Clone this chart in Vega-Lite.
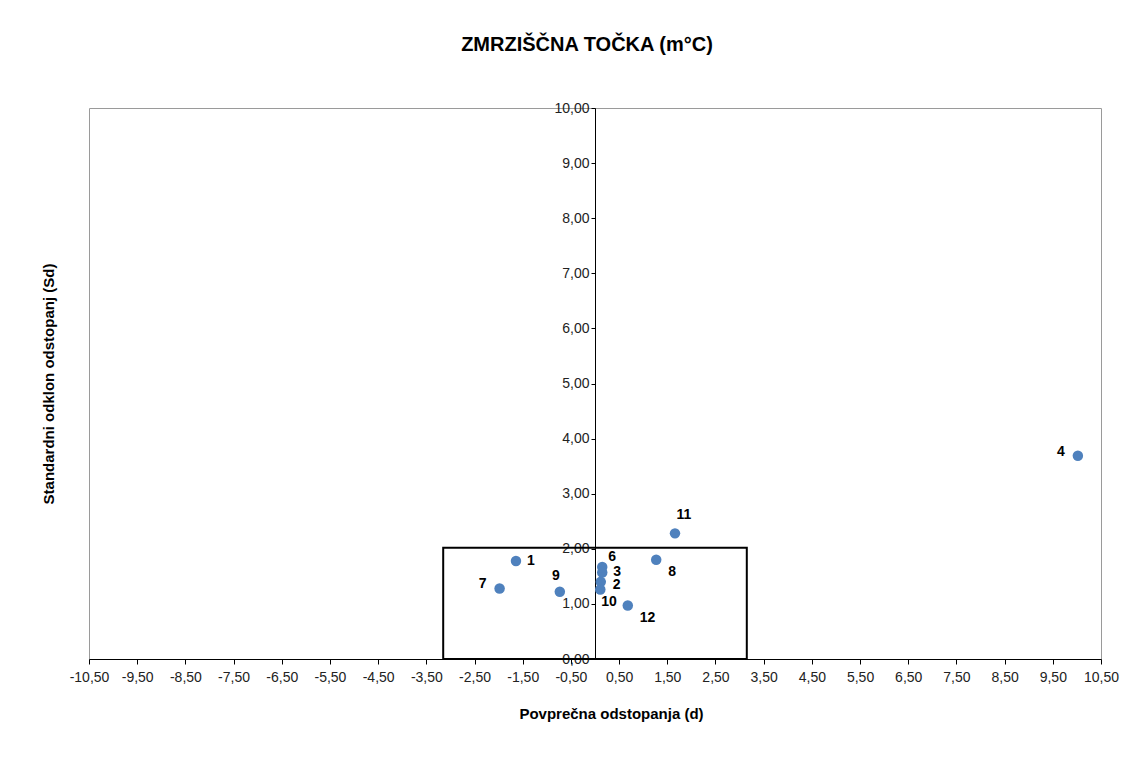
{
  "$schema": "https://vega.github.io/schema/vega-lite/v6.json",
  "width": 1012,
  "height": 551,
  "autosize": {"type": "none"},
  "padding": {"left": 89, "top": 108, "right": 38, "bottom": 99},
  "background": "white",
  "config": {
    "font": "Liberation Sans",
    "locale": {"number": {"decimal": ",", "thousands": ".", "grouping": [3], "currency": ["", " €"], "minus": "-"}},
    "view": {"stroke": "#9a9a9a", "strokeWidth": 1}
  },
  "title": {
    "text": "ZMRZIŠČNA  TOČKA (m°C)",
    "font": "Liberation Sans",
    "fontSize": 20,
    "fontWeight": "bold",
    "color": "black",
    "offset": 46,
    "dx": -8
  },
  "datasets": {
    "pts": [
      {"lab": "1", "d": -1.64, "sd": 1.78},
      {"lab": "2", "d": 0.12, "sd": 1.40},
      {"lab": "3", "d": 0.15, "sd": 1.57},
      {"lab": "4", "d": 10.02, "sd": 3.69},
      {"lab": "6", "d": 0.15, "sd": 1.67},
      {"lab": "7", "d": -1.98, "sd": 1.28},
      {"lab": "8", "d": 1.27, "sd": 1.80},
      {"lab": "9", "d": -0.73, "sd": 1.22},
      {"lab": "10", "d": 0.11, "sd": 1.26},
      {"lab": "11", "d": 1.66, "sd": 2.28},
      {"lab": "12", "d": 0.68, "sd": 0.97}
    ],
    "box": [{"x1": -3.15, "x2": 3.15, "y1": 0, "y2": 2.02}]
  },
  "layer": [
    {
      "data": {"name": "box"},
      "mark": {"type": "rect", "fill": "transparent", "stroke": "black", "strokeWidth": 2},
      "encoding": {
        "x": {"field": "x1", "type": "quantitative",
          "scale": {"domain": [-10.5, 10.5], "nice": false, "zero": false},
          "axis": {
            "title": "Povprečna odstopanja (d)",
            "titleFontSize": 15, "titleFontWeight": "bold", "titleColor": "black",
            "titlePadding": 22, "titleX": 522,
            "values": [-10.5, -9.5, -8.5, -7.5, -6.5, -5.5, -4.5, -3.5, -2.5, -1.5, -0.5, 0.5, 1.5, 2.5, 3.5, 4.5, 5.5, 6.5, 7.5, 8.5, 9.5, 10.5],
            "format": ".2f",
            "labelFontSize": 14, "labelColor": "#222", "labelPadding": 6,
            "labelOverlap": false, "labelFlush": false,
            "grid": false, "domainColor": "black", "tickColor": "black", "tickSize": 5
          }
        },
        "x2": {"field": "x2"},
        "y": {"field": "y1", "type": "quantitative",
          "scale": {"domain": [0, 10], "nice": false},
          "axis": {
            "title": "Standardni odklon odstopanj (Sd)",
            "titleFontSize": 15, "titleFontWeight": "bold", "titleColor": "black",
            "titleX": -539,
            "offset": -506,
            "values": [0, 1, 2, 3, 4, 5, 6, 7, 8, 9, 10],
            "format": ".2f",
            "labelFontSize": 14, "labelColor": "#222", "labelPadding": 2,
            "grid": false, "domainColor": "black", "tickColor": "black", "tickSize": 4
          }
        },
        "y2": {"field": "y2"}
      }
    },
    {
      "data": {"name": "pts"},
      "mark": {"type": "circle", "size": 110, "color": "#4F81BD", "opacity": 1},
      "encoding": {
        "x": {"field": "d", "type": "quantitative"},
        "y": {"field": "sd", "type": "quantitative"}
      }
    },
    {
      "data": {"name": "pts"},
      "transform": [{"filter": {"field": "lab", "oneOf": ["1", "3"]}}],
      "mark": {"type": "text", "align": "left", "baseline": "middle", "dx": 11, "dy": 0, "fontSize": 14, "fontWeight": "bold", "color": "black"},
      "encoding": {"x": {"field": "d", "type": "quantitative"}, "y": {"field": "sd", "type": "quantitative"}, "text": {"field": "lab"}}
    },
    {
      "data": {"name": "pts"},
      "transform": [{"filter": {"field": "lab", "oneOf": ["2"]}}],
      "mark": {"type": "text", "align": "left", "baseline": "middle", "dx": 12, "dy": 3, "fontSize": 14, "fontWeight": "bold", "color": "black"},
      "encoding": {"x": {"field": "d", "type": "quantitative"}, "y": {"field": "sd", "type": "quantitative"}, "text": {"field": "lab"}}
    },
    {
      "data": {"name": "pts"},
      "transform": [{"filter": {"field": "lab", "oneOf": ["7", "4"]}}],
      "mark": {"type": "text", "align": "right", "baseline": "middle", "dx": -13, "dy": -4, "fontSize": 14, "fontWeight": "bold", "color": "black"},
      "encoding": {"x": {"field": "d", "type": "quantitative"}, "y": {"field": "sd", "type": "quantitative"}, "text": {"field": "lab"}}
    },
    {
      "data": {"name": "pts"},
      "transform": [{"filter": {"field": "lab", "oneOf": ["9"]}}],
      "mark": {"type": "text", "align": "center", "baseline": "middle", "dx": -4, "dy": -16, "fontSize": 14, "fontWeight": "bold", "color": "black"},
      "encoding": {"x": {"field": "d", "type": "quantitative"}, "y": {"field": "sd", "type": "quantitative"}, "text": {"field": "lab"}}
    },
    {
      "data": {"name": "pts"},
      "transform": [{"filter": {"field": "lab", "oneOf": ["11"]}}],
      "mark": {"type": "text", "align": "center", "baseline": "middle", "dx": 9, "dy": -18, "fontSize": 14, "fontWeight": "bold", "color": "black"},
      "encoding": {"x": {"field": "d", "type": "quantitative"}, "y": {"field": "sd", "type": "quantitative"}, "text": {"field": "lab"}}
    },
    {
      "data": {"name": "pts"},
      "transform": [{"filter": {"field": "lab", "oneOf": ["6"]}}],
      "mark": {"type": "text", "align": "left", "baseline": "middle", "dx": 6, "dy": -10, "fontSize": 14, "fontWeight": "bold", "color": "black"},
      "encoding": {"x": {"field": "d", "type": "quantitative"}, "y": {"field": "sd", "type": "quantitative"}, "text": {"field": "lab"}}
    },
    {
      "data": {"name": "pts"},
      "transform": [{"filter": {"field": "lab", "oneOf": ["10"]}}],
      "mark": {"type": "text", "align": "left", "baseline": "middle", "dx": 1, "dy": 12, "fontSize": 14, "fontWeight": "bold", "color": "black"},
      "encoding": {"x": {"field": "d", "type": "quantitative"}, "y": {"field": "sd", "type": "quantitative"}, "text": {"field": "lab"}}
    },
    {
      "data": {"name": "pts"},
      "transform": [{"filter": {"field": "lab", "oneOf": ["12", "8"]}}],
      "mark": {"type": "text", "align": "left", "baseline": "middle", "dx": 12, "dy": 12, "fontSize": 14, "fontWeight": "bold", "color": "black"},
      "encoding": {"x": {"field": "d", "type": "quantitative"}, "y": {"field": "sd", "type": "quantitative"}, "text": {"field": "lab"}}
    }
  ]
}
